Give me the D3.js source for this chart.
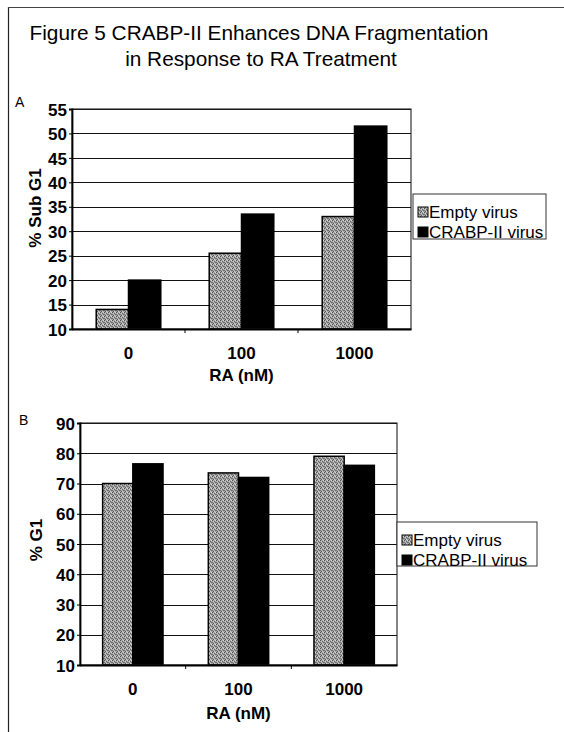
<!DOCTYPE html>
<html><head><meta charset="utf-8">
<script src="https://cdn.jsdelivr.net/npm/d3@7"></script>
<style>body{margin:0;background:#fff}svg{display:block}text{font-family:"Liberation Sans",Arial,sans-serif}</style>
</head><body><svg id="c" width="564" height="732"></svg>
<script>
const titleLines = ["Figure 5 CRABP-II Enhances DNA Fragmentation", "in Response to RA Treatment"];
const categories = ["0", "100", "1000"];
const seriesNames = ["Empty virus", "CRABP-II virus"];
const subG1Empty = [14, 25.5, 33];
const subG1Crabp = [20, 33.5, 51.5];
const subG1Ticks = [10, 15, 20, 25, 30, 35, 40, 45, 50, 55];
const g1Empty = [70, 73.5, 79];
const g1Crabp = [76.5, 72, 76];
const g1Ticks = [10, 20, 30, 40, 50, 60, 70, 80, 90];
const xTitle = "RA (nM)";

const svg = d3.select("#c");
svg.append("rect").attr("width",564).attr("height",732).attr("fill","#fff");
const defs = svg.append("defs");
const pat = defs.append("pattern").attr("id","stip").attr("width",4).attr("height",4).attr("patternUnits","userSpaceOnUse");
pat.append("rect").attr("width",4).attr("height",4).attr("fill","#a6a6a6");
[[0,0,"#505050"],[2,1,"#606060"],[1,3,"#585858"],[3,2,"#6a6a6a"],[3,0,"#d8d8d8"],[1,1,"#cfcfcf"],[0,2,"#7a7a7a"],[2,3,"#d0d0d0"]]
  .forEach(([x,y,c])=>pat.append("rect").attr("x",x).attr("y",y).attr("width",1).attr("height",1).attr("fill",c));

// frame
svg.append("line").attr("x1",8.5).attr("x2",8.5).attr("y1",7).attr("y2",732).attr("stroke","#222").attr("stroke-width",1.2);
svg.append("line").attr("x1",8).attr("x2",564).attr("y1",7.5).attr("y2",7.5).attr("stroke","#444").attr("stroke-width",1);

svg.append("text").attr("x",259).attr("y",40).attr("text-anchor","middle").attr("font-size",20.8).text(titleLines[0]);
svg.append("text").attr("x",261).attr("y",66).attr("text-anchor","middle").attr("font-size",20.8).text(titleLines[1]);

function panel(o){
  const g = svg.append("g");
  const x = d3.scaleBand().domain(categories).range([o.left,o.right]);
  const y = d3.scaleLinear().domain(o.domain).range([o.bottom,o.top]);
  g.selectAll(".grid").data(o.ticks.slice(1)).join("line")
    .attr("x1",o.left).attr("x2",o.right)
    .attr("y1",d=>Math.round(y(d))+0.5).attr("y2",d=>Math.round(y(d))+0.5)
    .attr("stroke","#111").attr("stroke-width",1.1);
  const bw = x.bandwidth()/3.5;
  [o.s1, o.s2].forEach((vals,si)=>{
    g.selectAll(".b"+si).data(categories).join("rect")
      .attr("x",d=>x(d)+x.bandwidth()/2 - bw + si*bw)
      .attr("y",(d,i)=>y(vals[i]))
      .attr("width",bw)
      .attr("height",(d,i)=>o.bottom - y(vals[i]))
      .attr("fill", si===0 ? "url(#stip)" : "#000")
      .attr("stroke","#000").attr("stroke-width",1.5);
  });
  g.append("rect").attr("x",o.left).attr("y",o.top).attr("width",o.right-o.left).attr("height",o.bottom-o.top)
    .attr("fill","none").attr("stroke","#222").attr("stroke-width",1.1);
  const ya = g.append("g").attr("transform",`translate(${o.left},0)`)
    .call(d3.axisLeft(y).tickValues(o.ticks).tickSize(3).tickPadding(2));
  ya.select(".domain").attr("stroke","#000").attr("stroke-width",1.8);
  ya.selectAll("text").attr("font-size",17).attr("font-weight","bold").attr("fill","#000")
    .attr("font-family","'Liberation Sans',Arial,sans-serif").attr("dy","0.36em");
  const xa = g.append("g").attr("transform",`translate(0,${o.bottom})`)
    .call(d3.axisBottom(x).tickSize(0).tickPadding(18));
  xa.select(".domain").attr("stroke","#000").attr("stroke-width",1.8);
  xa.selectAll("text").attr("font-size",17).attr("font-weight","bold").attr("fill","#000")
    .attr("font-family","'Liberation Sans',Arial,sans-serif");
  g.selectAll(".bt").data(categories.slice(1)).join("line")
    .attr("x1",d=>x(d)).attr("x2",d=>x(d)).attr("y1",o.bottom).attr("y2",o.bottom+4).attr("stroke","#000");
  g.append("text").attr("x",(o.left+o.right)/2).attr("y",o.xTitleY).attr("text-anchor","middle")
    .attr("font-size",17).attr("font-weight","bold").text(xTitle);
  g.append("text").attr("transform",`translate(${o.yTitleX},${o.yTitleCy}) rotate(-90)`)
    .attr("text-anchor","middle").attr("font-size",17).attr("font-weight","bold").text(o.yTitle);
  g.append("text").attr("x",o.letterX).attr("y",o.letterY).attr("font-size",14).text(o.letter);
  const L = o.legend;
  g.append("rect").attr("x",L.x).attr("y",L.y).attr("width",L.w).attr("height",L.h)
    .attr("fill","#fff").attr("stroke","#333").attr("stroke-width",1);
  seriesNames.forEach((n,i)=>{
    g.append("rect").attr("x",L.x+5).attr("y",L.y+13+i*20).attr("width",10).attr("height",10)
      .attr("fill", i===0?"url(#stip)":"#000").attr("stroke","#000").attr("stroke-width",1);
    g.append("text").attr("x",L.x+16).attr("y",L.y+24+i*20).attr("font-size",17).text(n);
  });
}

panel({left:72,right:411,top:109,bottom:329,domain:[10,55],ticks:subG1Ticks,s1:subG1Empty,s2:subG1Crabp,
  xTitleY:381,yTitle:"% Sub G1",yTitleX:41,yTitleCy:208,letter:"A",letterX:15,letterY:107,
  legend:{x:413,y:194,w:133,h:45}});
panel({left:80,right:397,top:423,bottom:665,domain:[10,90],ticks:g1Ticks,s1:g1Empty,s2:g1Crabp,
  xTitleY:719,yTitle:"% G1",yTitleX:42,yTitleCy:540,letter:"B",letterX:19,letterY:425,
  legend:{x:397,y:522,w:140,h:44}});
</script></body></html>
